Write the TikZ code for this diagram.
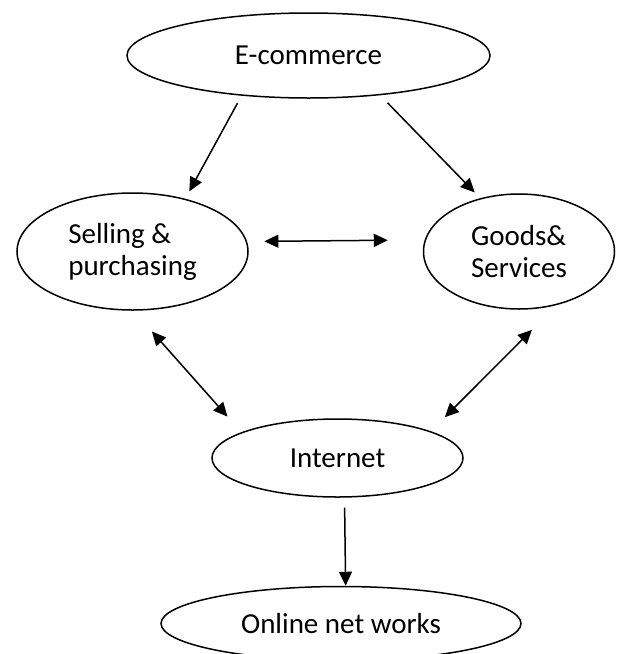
\documentclass[tikz,border=0pt]{standalone}
\usepackage{fontspec}
\setmainfont{Carlito}
\usepackage{tikz}
\usetikzlibrary{
  positioning,
  arrows.meta,
  shapes.geometric
}

\begin{document}
\begin{tikzpicture}[
  x=0.5pt, y=-0.5pt,
  bubble/.style={draw, ellipse, line width=0.75pt, inner sep=1pt,
                 align=left, font=\fontsize{14.5}{16}\selectfont},
  link/.style={-{Triangle[length=7pt, width=6.5pt]}, line width=0.75pt},
  twoway/.style={{Triangle[length=7pt, width=6.5pt]}-{Triangle[length=7pt, width=6.5pt]},
                 line width=0.75pt}
]
  \useasboundingbox (0,0) rectangle (617,654);
  \node[bubble, minimum width=181.5pt, minimum height=42.5pt] (ecom) at (308.5,55.5) {E-commerce};
  \node[bubble, minimum width=115.5pt, minimum height=58.5pt] (sell) at (132.5,251.5) {Selling \&\\purchasing};
  \node[bubble, minimum width=95.5pt, minimum height=57.5pt, right=87pt of sell] (goods) {Goods\&\\Services};
  \node[bubble, minimum width=125.5pt, minimum height=39pt] (inet) at (337.5,458) {Internet};
  \node[bubble, minimum width=180pt, minimum height=37pt, below=44pt of inet, xshift=1.75pt] (online) {Online net works};
  \draw[link, shorten <=4.25pt, shorten >=4.2pt] (ecom.211.2) -- (sell.45.4);
  \draw[link, shorten <=5.25pt, shorten >=4pt] (ecom.331.7) -- (goods.126);
  \draw[twoway, shorten <=8.65pt, shorten >=18.45pt] (sell.5.8) -- (goods.173);
  \draw[twoway, shorten <=13.85pt, shorten >=10.45pt] (sell.271.4) -- (inet.165.4);
  \draw[twoway, shorten <=17.45pt, shorten >=9.9pt] (goods.305.2) -- (inet.16.6);
  \draw[link, shorten <=5pt] (inet.280.9) -- (online.83.8);
\end{tikzpicture}
\end{document}
